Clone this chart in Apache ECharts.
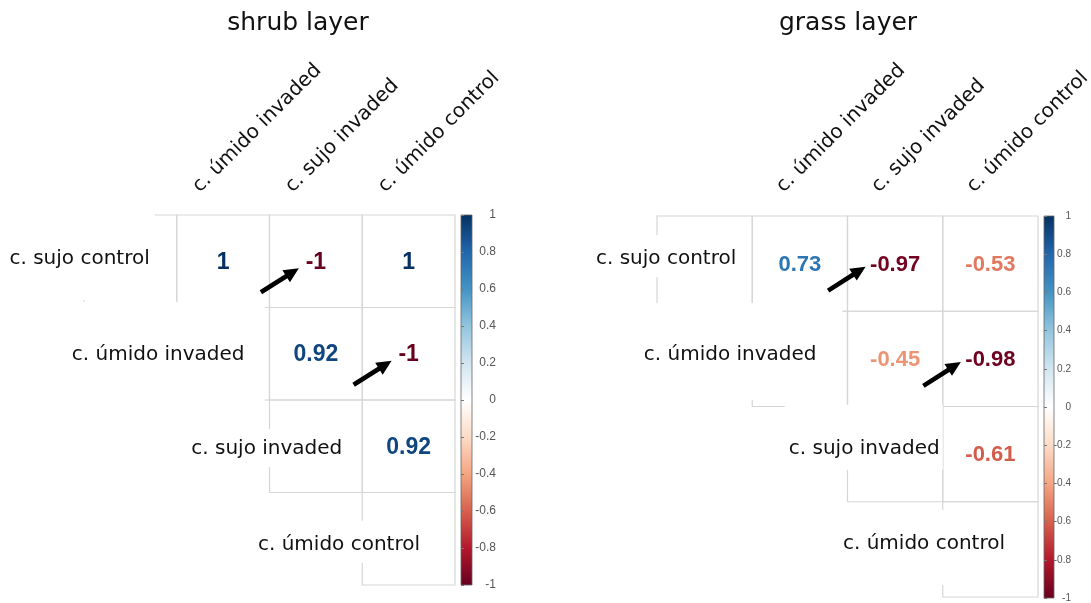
<!DOCTYPE html>
<html><head><meta charset="utf-8">
<script src="https://cdn.jsdelivr.net/npm/echarts@6/dist/echarts.min.js"></script>
<style>html,body{margin:0;padding:0;background:#fff}#c{width:1091px;height:603px}</style>
</head><body><div id="c"></div>
<script>
// ---- data ----
const variables = ['c. sujo control', 'c. úmido invaded', 'c. sujo invaded', 'c. úmido control'];
const panelTitles = ['shrub layer', 'grass layer'];
// upper-triangle correlations, row by row (row r, columns r+1 .. 3)
const shrubValues = [[1, -1, 1], [0.92, -1], [0.92]];
const grassValues = [[0.73, -0.97, -0.53], [-0.45, -0.98], [-0.61]];
// arrows point at these cells: [row, col]
const shrubArrowTargets = [[0, 2], [1, 3]];
const grassArrowTargets = [[0, 2], [1, 3]];
const colorbarMin = -1, colorbarMax = 1, colorbarStep = 0.2;
const rdbu = ['#67001F', '#B2182B', '#D6604D', '#F4A582', '#FDDBC7', '#FFFFFF', '#D1E5F0', '#92C5DE', '#4393C3', '#2166AC', '#053061'];

// ---- layout / style ----
const layout = [
  { grid: { left: 84, top: 215, width: 371, height: 370 }, bar: { left: 461, top: 215, width: 11, height: 370 },
    barFont: 12, barMargin: 24, valueFont: 23, titleX: 293,
    head: { dx: -20, dy: -18.5 }, arrow: { tip: [-17, 7], tail: [-55, 31] },
    rowLabels: [
      { dx: -27, dy: -3, pad: [33, 5, 30, 4] },
      { dx: -25, dy: 0, pad: [40, 20, 36, 4] },
      { dx: -20, dy: 2, pad: [7, 4, 7, 4] },
      { dx: -35, dy: 5, pad: [11, 4, 7, 4] }
    ] },
  { grid: { left: 657, top: 216, width: 381, height: 381 }, bar: { left: 1044, top: 216, width: 10, height: 382 },
    barFont: 10, barMargin: 17, valueFont: 22, titleX: 843,
    head: { dx: -13, dy: -19.5 }, arrow: { tip: [-29.5, 3], tail: [-67, 27] },
    rowLabels: [
      { dx: -16, dy: -5.5, pad: [11, 4, 7, 4] },
      { dx: -31, dy: -5, pad: [39, 26, 34, 4] },
      { dx: -3, dy: -6.5, pad: [31, 3, 10, 4] },
      { dx: -33, dy: -6.5, pad: [21, 4, 30, 4] }
    ] }
];
const LABEL_FONT = 'DejaVu Sans';
const LABEL_SIZE = 20;
const VALUE_FONT = 'Liberation Sans, Arial, sans-serif';
const GRID_COLOR = '#d6d6d6';

const measureCtx = document.createElement('canvas').getContext('2d');
function textWidth(t, font) { measureCtx.font = font; return measureCtx.measureText(t).width; }

const panels = [
  { values: shrubValues, arrows: shrubArrowTargets },
  { values: grassValues, arrows: grassArrowTargets }
];

const grids = [], xAxes = [], yAxes = [], series = [], titles = [], valueSeriesIdx = [];
const n = variables.length;

panels.forEach((pan, p) => {
  const L = layout[p];
  grids.push(Object.assign({}, L.grid));
  xAxes.push({ gridIndex: p, type: 'category', data: variables, show: false });
  yAxes.push({ gridIndex: p, type: 'category', data: variables, inverse: true, show: false });
  titles.push({ text: panelTitles[p], left: L.titleX, top: 6, textAlign: 'center',
    textStyle: { fontFamily: LABEL_FONT, fontSize: 25, fontWeight: 'normal', color: '#111' } });

  // cells (upper triangle incl. diagonal) -> borders
  const cellData = [];
  for (let r = 0; r < n; r++) for (let c = r; c < n; c++) cellData.push([c, r]);
  series.push({
    type: 'custom', xAxisIndex: p, yAxisIndex: p, z: 1, silent: true, data: cellData,
    renderItem: (params, api) => {
      const ctr = api.coord([api.value(0), api.value(1)]);
      const s = api.size([1, 1]);
      return { type: 'rect', shape: { x: ctr[0] - s[0] / 2, y: ctr[1] - s[1] / 2, width: s[0], height: s[1] },
        style: { fill: 'none', stroke: GRID_COLOR, lineWidth: 1.2 } };
    }
  });

  // row labels on the diagonal (on white boxes)
  series.push({
    type: 'custom', xAxisIndex: p, yAxisIndex: p, z: 3, silent: true,
    data: variables.map((v, i) => [i, i]),
    renderItem: (params, api) => {
      const i = api.value(0);
      const ctr = api.coord([i, i]);
      const s = api.size([1, 1]);
      const rl = L.rowLabels[i], pd = rl.pad;
      const font = LABEL_SIZE + 'px ' + LABEL_FONT;
      const w = textWidth(variables[i], font), th = 24;
      const right = ctr[0] + s[0] / 2 + rl.dx, cy = ctr[1] + rl.dy;
      return { type: 'group', children: [
        { type: 'rect', shape: { x: right - w - pd[3], y: cy - th / 2 - pd[0], width: w + pd[3] + pd[1], height: th + pd[0] + pd[2] },
          style: { fill: '#fff' } },
        { type: 'text', x: right, y: cy + 1,
          style: { text: variables[i], align: 'right', verticalAlign: 'middle', fill: '#111', font: font } }
      ] };
    }
  });

  // column header labels (rotated)
  series.push({
    type: 'custom', xAxisIndex: p, yAxisIndex: p, z: 3, silent: true,
    data: variables.slice(1).map((v, i) => [i + 1, 0]),
    renderItem: (params, api) => {
      const c = api.value(0);
      const ctr = api.coord([c, 0]);
      const s = api.size([1, 1]);
      return { type: 'text', x: ctr[0] + L.head.dx, y: ctr[1] - s[1] / 2 + L.head.dy, rotation: Math.PI / 4,
        style: { text: variables[c], align: 'left', verticalAlign: 'bottom', fill: '#111',
          font: LABEL_SIZE + 'px ' + LABEL_FONT } };
    }
  });

  // correlation values
  const valData = [];
  pan.values.forEach((row, r) => row.forEach((v, k) => valData.push([r + 1 + k, r, v])));
  valueSeriesIdx.push(series.length);
  series.push({
    type: 'custom', xAxisIndex: p, yAxisIndex: p, z: 4, silent: true, data: valData,
    dimensions: ['col', 'row', 'value'],
    renderItem: (params, api) => {
      const ctr = api.coord([api.value(0), api.value(1)]);
      return { type: 'text', x: ctr[0], y: ctr[1] + 1,
        style: { text: String(api.value(2)), align: 'center', verticalAlign: 'middle',
          fill: api.visual('color'), font: 'bold ' + L.valueFont + 'px ' + VALUE_FONT } };
    }
  });

  // arrows
  series.push({
    type: 'custom', xAxisIndex: p, yAxisIndex: p, z: 5, silent: true,
    data: pan.arrows.map(a => [a[1], a[0]]),
    renderItem: (params, api) => {
      const ctr = api.coord([api.value(0), api.value(1)]);
      const tip = [ctr[0] + L.arrow.tip[0], ctr[1] + L.arrow.tip[1]];
      const tail = [ctr[0] + L.arrow.tail[0], ctr[1] + L.arrow.tail[1]];
      const dx = tip[0] - tail[0], dy = tip[1] - tail[1], len = Math.hypot(dx, dy);
      const ux = dx / len, uy = dy / len, px = -uy, py = ux;
      const hl = 15, hw = 7, sw = 2.3;
      const nk = [tip[0] - ux * hl, tip[1] - uy * hl];
      const pts = [
        [tail[0] + px * sw, tail[1] + py * sw], [nk[0] + px * sw, nk[1] + py * sw], [nk[0] + px * hw, nk[1] + py * hw],
        tip, [nk[0] - px * hw, nk[1] - py * hw], [nk[0] - px * sw, nk[1] - py * sw], [tail[0] - px * sw, tail[1] - py * sw]
      ];
      return { type: 'polygon', shape: { points: pts }, style: { fill: '#000' } };
    }
  });
});

// colour bars
panels.forEach((pan, p) => {
  const L = layout[p];
  const gi = grids.length;
  grids.push(Object.assign({}, L.bar));
  xAxes.push({ gridIndex: gi, type: 'value', min: 0, max: 1, show: false });
  yAxes.push({ gridIndex: gi, type: 'value', min: colorbarMin, max: colorbarMax, interval: colorbarStep,
    position: 'right', axisLine: { show: false }, splitLine: { show: false }, z: 10,
    axisTick: { show: true, length: 3, lineStyle: { color: '#777', width: 1 } },
    axisLabel: { show: true, align: 'right', margin: L.barMargin, color: '#555', fontSize: L.barFont,
      fontFamily: VALUE_FONT } });
  series.push({
    type: 'custom', xAxisIndex: gi, yAxisIndex: gi, silent: true, z: 1, data: [[0, colorbarMin, colorbarMax]],
    renderItem: (params, api) => {
      const top = api.coord([0, api.value(2)]);
      const bot = api.coord([1, api.value(1)]);
      const stops = rdbu.map((c, i) => ({ offset: i / (rdbu.length - 1), color: c }));
      // gradient from bottom (-1) to top (1)
      return { type: 'rect', shape: { x: top[0], y: top[1], width: bot[0] - top[0], height: bot[1] - top[1] },
        style: { fill: new echarts.graphic.LinearGradient(0, 1, 0, 0, stops), stroke: '#666', lineWidth: 0.8 } };
    }
  });
});

const chart = echarts.init(document.getElementById('c'), null, { renderer: 'canvas' });
chart.setOption({
  animation: false,
  backgroundColor: '#fff',
  title: titles,
  grid: grids,
  xAxis: xAxes,
  yAxis: yAxes,
  visualMap: { type: 'continuous', show: false, min: colorbarMin, max: colorbarMax, dimension: 2,
    seriesIndex: valueSeriesIdx, inRange: { color: rdbu } },
  series: series
});
</script>
</body></html>
